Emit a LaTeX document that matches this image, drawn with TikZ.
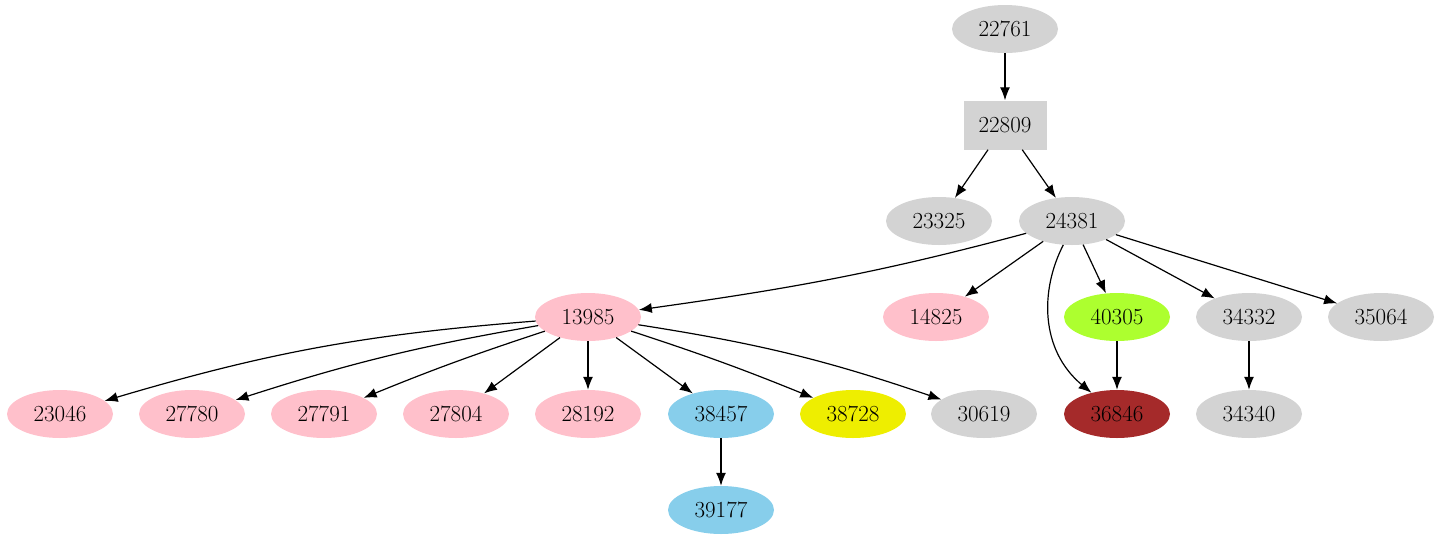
\documentclass[tikz,border=0pt]{standalone}
\usetikzlibrary{shapes.geometric,arrows.meta}
\definecolor{gr}{RGB}{211,211,211}
\definecolor{pk}{RGB}{255,192,203}
\definecolor{sb}{RGB}{135,206,235}
\definecolor{yg}{RGB}{173,255,47}
\definecolor{ye}{RGB}{238,238,0}
\definecolor{br}{RGB}{165,42,42}
\begin{document}
\begin{tikzpicture}[x=1pt,y=-1pt,
  el/.style={ellipse,fill=#1,minimum width=106pt,minimum height=48pt,inner sep=0pt,font=\fontsize{23}{27}\selectfont},
  bx/.style={rectangle,fill=gr,minimum width=83pt,minimum height=49pt,inner sep=0pt,font=\fontsize{23}{27}\selectfont},
  ed/.style={-{Latex[length=13pt,width=10pt]},line width=1.2pt}]
\useasboundingbox (0,0) rectangle (1438,539);
\node[el=gr] (n22761) at (1005,29) {22761};
\node[bx] (n22809) at (1005,125) {22809};
\node[el=gr] (n23325) at (939,221) {23325};
\node[el=gr] (n24381) at (1072,221) {24381};
\node[el=pk] (n13985) at (588,317) {13985};
\node[el=pk] (n14825) at (936,317) {14825};
\node[el=yg] (n40305) at (1117,317) {40305};
\node[el=gr] (n34332) at (1249,317) {34332};
\node[el=gr] (n35064) at (1381,317) {35064};
\node[el=pk] (n23046) at (60,414) {23046};
\node[el=pk] (n27780) at (192,414) {27780};
\node[el=pk] (n27791) at (324,414) {27791};
\node[el=pk] (n27804) at (456,414) {27804};
\node[el=pk] (n28192) at (588,414) {28192};
\node[el=sb] (n38457) at (721,414) {38457};
\node[el=ye] (n38728) at (853,414) {38728};
\node[el=gr] (n30619) at (984,414) {30619};
\node[el=br] (n36846) at (1117,414) {36846};
\node[el=gr] (n34340) at (1249,414) {34340};
\node[el=sb] (n39177) at (721,510) {39177};
\draw[ed] (n22761) -- (n22809);
\draw[ed] (n22809) -- (n23325);
\draw[ed] (n22809) -- (n24381);
\draw[ed] (n24381) to[out=195,in=8] (n13985);
\draw[ed] (n24381) -- (n14825);
\draw[ed] (n24381) -- (n40305);
\draw[ed] (n24381) -- (n34332);
\draw[ed] (n24381) -- (n35064);
\draw[ed] (n24381.250) .. controls (1040,290) and (1040,350) .. (n36846);
\draw[ed] (n40305) -- (n36846);
\draw[ed] (n34332) -- (n34340);
\draw[ed] (n13985) to[bend right=6] (n23046);
\draw[ed] (n13985) to[bend right=4] (n27780);
\draw[ed] (n13985) to[bend right=2] (n27791);
\draw[ed] (n13985) -- (n27804);
\draw[ed] (n13985) -- (n28192);
\draw[ed] (n13985) -- (n38457);
\draw[ed] (n13985) to[bend left=2] (n38728);
\draw[ed] (n13985) to[bend left=5] (n30619);
\draw[ed] (n38457) -- (n39177);
\end{tikzpicture}
\end{document}
